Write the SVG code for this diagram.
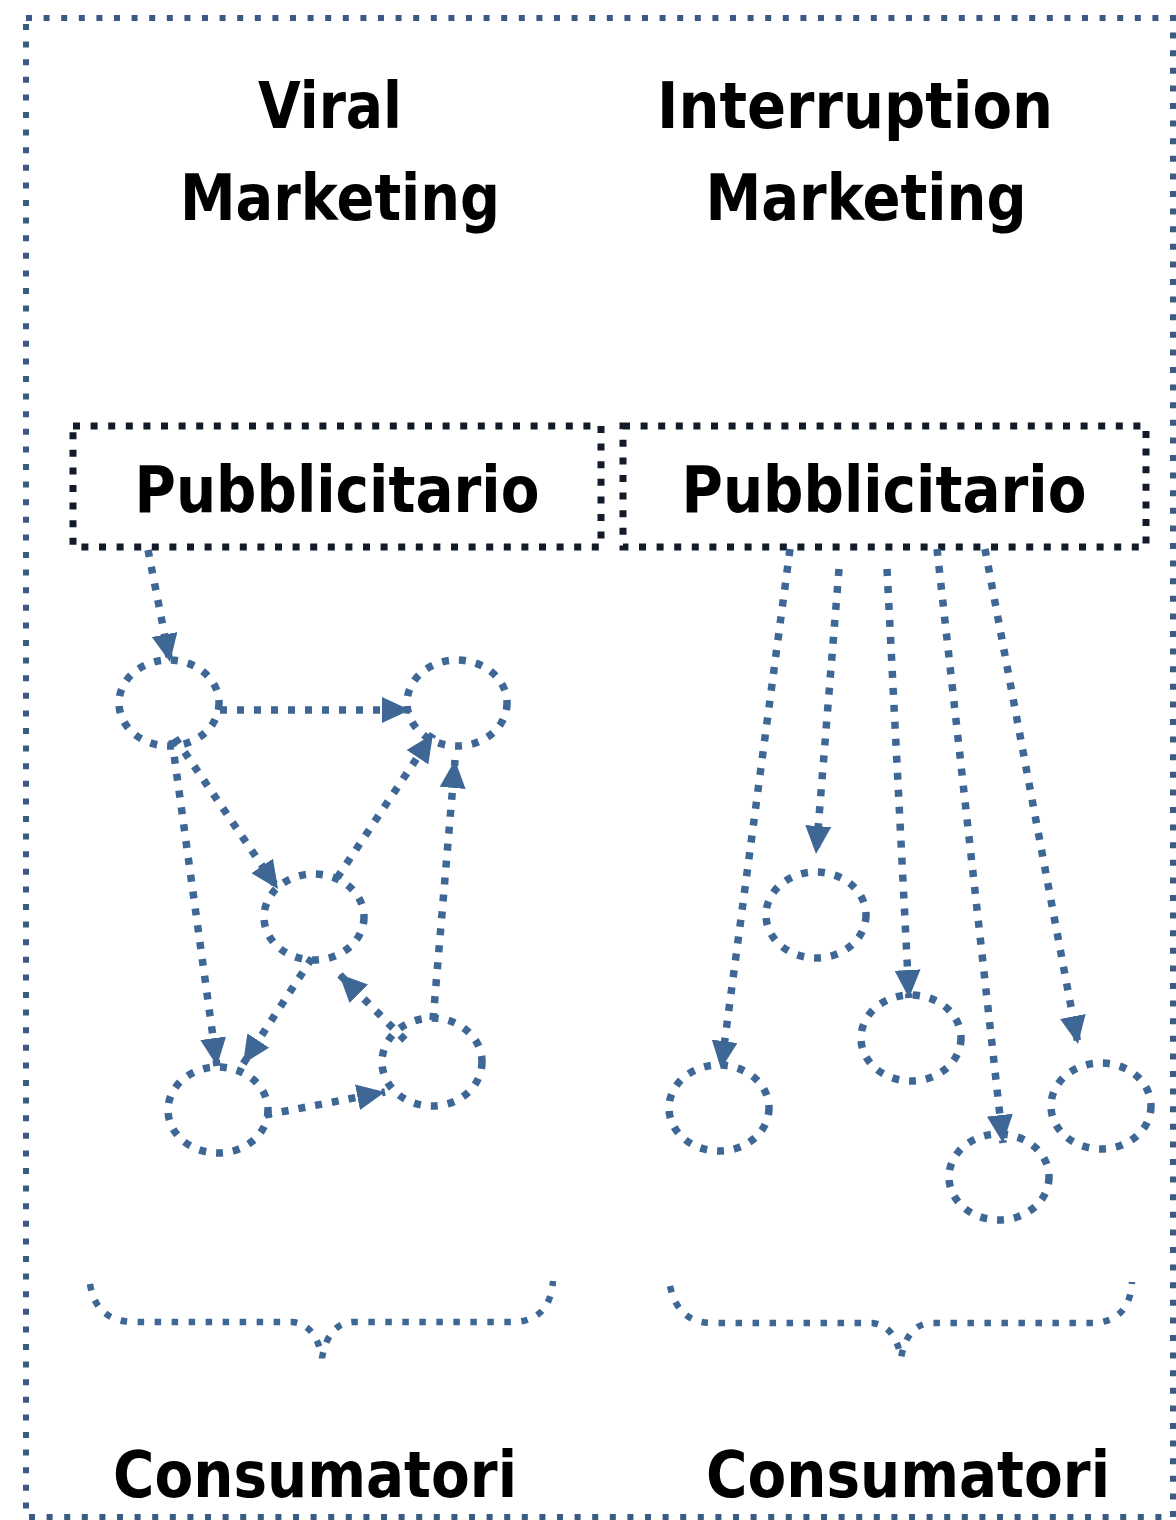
<svg xmlns="http://www.w3.org/2000/svg" width="1176" height="1520" viewBox="0 0 1176 1520">
  <defs>
    <style>
      .frame { fill: none; stroke: #3a5a84; stroke-width: 6; stroke-dasharray: 6 11.6; }
      .box { fill: none; stroke: #131a2a; stroke-width: 7; stroke-dasharray: 7 10.6; }
      .node { fill: none; stroke: #3e6795; stroke-width: 7.5; stroke-dasharray: 7 10; }
      .link { fill: none; stroke: #3e6795; stroke-width: 7.5; stroke-dasharray: 7 10; marker-end: url(#head); }
      .brace { fill: none; stroke: #3e6795; stroke-width: 6.5; stroke-dasharray: 6.5 10.5; }
      .label { font-family: "DejaVu Sans", Verdana, sans-serif; font-weight: bold; font-size: 64px; fill: #000; text-anchor: middle; }
    </style>
    <marker id="head" viewBox="0 0 28 26" refX="28" refY="13" markerWidth="28" markerHeight="26" markerUnits="userSpaceOnUse" orient="auto">
      <path d="M0 0 L28 13 L0 26 Z" fill="#3e6795"/>
    </marker>
  </defs>

  <rect x="0" y="0" width="1176" height="1520" fill="#ffffff"/>

  <!-- outer dotted frame -->
  <rect class="frame" x="26" y="18" width="1147" height="1499"/>

  <!-- column headings -->
  <g id="title-viral">
    <text class="label" x="330" y="128" textLength="144" lengthAdjust="spacingAndGlyphs">Viral</text>
    <text class="label" x="340" y="220" textLength="320" lengthAdjust="spacingAndGlyphs">Marketing</text>
  </g>
  <g id="title-interruption">
    <text class="label" x="855" y="128" textLength="396" lengthAdjust="spacingAndGlyphs">Interruption</text>
    <text class="label" x="866" y="220" textLength="321" lengthAdjust="spacingAndGlyphs">Marketing</text>
  </g>

  <!-- advertiser boxes -->
  <g id="advertiser-viral">
    <rect class="box" x="73" y="426" width="528" height="121"/>
    <text class="label" x="337" y="512" textLength="405" lengthAdjust="spacingAndGlyphs">Pubblicitario</text>
  </g>
  <g id="advertiser-interruption">
    <rect class="box" x="623" y="426" width="523" height="121"/>
    <text class="label" x="884" y="512" textLength="405" lengthAdjust="spacingAndGlyphs">Pubblicitario</text>
  </g>

  <!-- consumers, viral network -->
  <g id="viral-a"><ellipse class="node" cx="169" cy="703" rx="50" ry="43"/></g>
  <g id="viral-b"><ellipse class="node" cx="457" cy="703" rx="50" ry="43"/></g>
  <g id="viral-c"><ellipse class="node" cx="314" cy="917" rx="50" ry="43"/></g>
  <g id="viral-d"><ellipse class="node" cx="218" cy="1110" rx="50" ry="43"/></g>
  <g id="viral-e"><ellipse class="node" cx="432" cy="1062" rx="50" ry="44"/></g>

  <!-- consumers, interruption -->
  <g id="int-f"><ellipse class="node" cx="816" cy="915" rx="50" ry="43"/></g>
  <g id="int-g"><ellipse class="node" cx="911" cy="1038" rx="50" ry="43"/></g>
  <g id="int-h"><ellipse class="node" cx="719" cy="1108" rx="50" ry="43"/></g>
  <g id="int-i"><ellipse class="node" cx="999" cy="1177" rx="50" ry="43"/></g>
  <g id="int-j"><ellipse class="node" cx="1101" cy="1106" rx="50" ry="43"/></g>

  <!-- connectors -->
  <g id="connectors">
    <path class="link" d="M148 550 L170 662"/>
    <path class="link" d="M220 710 L410 710"/>
    <path class="link" d="M172 740 L217 1066"/>
    <path class="link" d="M175 738 L278 889"/>
    <path class="link" d="M337 878 L433 734"/>
    <path class="link" d="M433 1020 L455 760"/>
    <path class="link" d="M312 958 L243 1064"/>
    <path class="link" d="M405 1040 L339 974"/>
    <path class="link" d="M265 1115 L385 1092"/>

    <path class="link" d="M790 549 L721 1069"/>
    <path class="link" d="M839 569 L816 854"/>
    <path class="link" d="M887 569 L909 998"/>
    <path class="link" d="M937 549 L1003 1143"/>
    <path class="link" d="M985 549 L1078 1044"/>
  </g>

  <!-- group braces -->
  <g id="brace-viral">
    <path class="brace" d="M90 1284 Q96 1322 135 1322 L292 1322 Q316 1324 322 1358 Q328 1324 352 1322 L515 1322 Q550 1320 553 1281"/>
  </g>
  <g id="brace-interruption">
    <path class="brace" d="M670 1286 Q678 1323 712 1323 L872 1323 Q895 1325 901 1358 Q907 1325 930 1323 L1095 1323 Q1130 1320 1132 1282"/>
  </g>

  <!-- consumer labels -->
  <g id="consumers-viral">
    <text class="label" x="315" y="1497" textLength="404" lengthAdjust="spacingAndGlyphs">Consumatori</text>
  </g>
  <g id="consumers-interruption">
    <text class="label" x="908" y="1497" textLength="404" lengthAdjust="spacingAndGlyphs">Consumatori</text>
  </g>
</svg>
